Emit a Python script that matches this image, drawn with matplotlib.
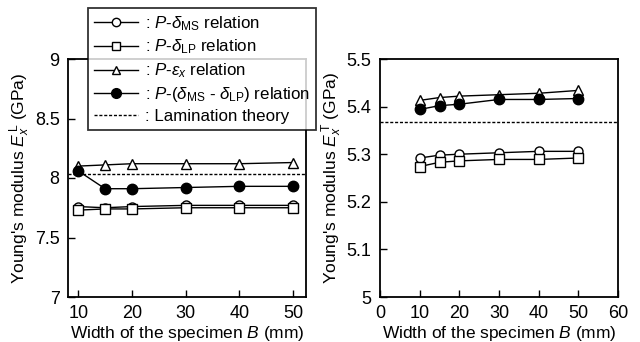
import matplotlib
matplotlib.use('Agg')
import matplotlib.pyplot as plt
from matplotlib.lines import Line2D

plt.rcParams['font.family'] = ['Liberation Sans', 'DejaVu Sans']
plt.rcParams['mathtext.fontset'] = 'custom'
plt.rcParams['mathtext.rm'] = 'Liberation Sans'
plt.rcParams['mathtext.it'] = 'Liberation Sans:italic'
plt.rcParams['mathtext.bf'] = 'Liberation Sans:bold'

# Largeur de l'éprouvette (mm)
width_mm = [10, 15, 20, 30, 40, 50]

# Module longitudinal E_x^L (GPa)
L_ms = [7.76, 7.75, 7.76, 7.77, 7.77, 7.77]
L_lp = [7.73, 7.74, 7.74, 7.75, 7.75, 7.75]
L_eps = [8.10, 8.11, 8.12, 8.12, 8.12, 8.13]
L_diff = [8.06, 7.91, 7.91, 7.92, 7.93, 7.93]
L_theory = 8.03

# Module transversal E_x^T (GPa)
T_ms = [5.292, 5.298, 5.300, 5.303, 5.306, 5.306]
T_lp = [5.274, 5.283, 5.286, 5.289, 5.289, 5.292]
T_eps = [5.413, 5.419, 5.422, 5.425, 5.428, 5.434]
T_diff = [5.394, 5.402, 5.405, 5.415, 5.415, 5.417]
T_theory = 5.367

fig = plt.figure(figsize=(6.4, 3.42), dpi=100)
ax1 = fig.add_axes([68 / 640, 45 / 342, 238 / 640, 238 / 342])
ax2 = fig.add_axes([380 / 640, 45 / 342, 238 / 640, 238 / 342])

styles = dict(color='black', lw=1.0, markersize=6.5)
dash = (0, (2.2, 1.3))

def draw(ax, ms, lp, eps, diff, theory):
    ax.plot(width_mm, ms, marker='o', mfc='white', **styles, zorder=3)
    ax.plot(width_mm, lp, marker='s', mfc='white', **styles, zorder=3)
    ax.plot(width_mm, eps, marker='^', mfc='white', **styles, zorder=3)
    ax.plot(width_mm, diff, marker='o', mfc='black', color='black', lw=1.0,
            markersize=7.5, zorder=4)
    ax.axhline(theory, color='black', lw=1.0, ls=dash, zorder=2)
    ax.tick_params(direction='in', length=5, width=1, labelsize=13, pad=6)
    for s in ax.spines.values():
        s.set_linewidth(1.3)

draw(ax1, L_ms, L_lp, L_eps, L_diff, L_theory)
ax1.set_xlim(8.1, 52.4)
ax1.set_ylim(7, 9)
ax1.set_xticks([10, 20, 30, 40, 50])
ax1.set_yticks([7, 7.5, 8, 8.5, 9])
ax1.set_yticklabels(['7', '7.5', '8', '8.5', '9'])
ax1.set_xlabel(r'Width of the specimen $B$ (mm)', fontsize=12.5, labelpad=1)
ax1.set_ylabel(r"Young's modulus $E_x^{\,\mathrm{L}}$ (GPa)", fontsize=12.5, labelpad=2)

draw(ax2, T_ms, T_lp, T_eps, T_diff, T_theory)
ax2.set_xlim(0, 60)
ax2.set_ylim(5, 5.5)
ax2.set_xticks([0, 10, 20, 30, 40, 50, 60])
ax2.set_yticks([5, 5.1, 5.2, 5.3, 5.4, 5.5])
ax2.set_yticklabels(['5', '5.1', '5.2', '5.3', '5.4', '5.5'])
ax2.set_xlabel(r'Width of the specimen $B$ (mm)', fontsize=12.5, labelpad=1)
ax2.set_ylabel(r"Young's modulus $E_x^{\,\mathrm{T}}$ (GPa)", fontsize=12.5, labelpad=2)

handles = [
    Line2D([], [], color='black', lw=1.0, marker='o', mfc='white', markersize=6),
    Line2D([], [], color='black', lw=1.0, marker='s', mfc='white', markersize=6),
    Line2D([], [], color='black', lw=1.0, marker='^', mfc='white', markersize=6),
    Line2D([], [], color='black', lw=1.0, marker='o', mfc='black', markersize=7),
    Line2D([], [], color='black', lw=1.0, ls=dash),
]
labels = [
    r': $P$-$\delta_{\mathrm{MS}}$ relation',
    r': $P$-$\delta_{\mathrm{LP}}$ relation',
    r': $P$-$\varepsilon_x$ relation',
    r': $P$-($\delta_{\mathrm{MS}}$ - $\delta_{\mathrm{LP}}$) relation',
    r': Lamination theory',
]
leg = fig.legend(handles, labels, loc='upper left',
                 bbox_to_anchor=(88 / 640, 1 - 8 / 342), fontsize=12.2,
                 frameon=True, fancybox=False, edgecolor='black',
                 handlelength=2.6, handletextpad=0.4, labelspacing=0.3,
                 borderpad=0.35, borderaxespad=0)
leg.get_frame().set_linewidth(1.3)
leg.set_zorder(10)

fig.savefig('out.png', dpi=100)
